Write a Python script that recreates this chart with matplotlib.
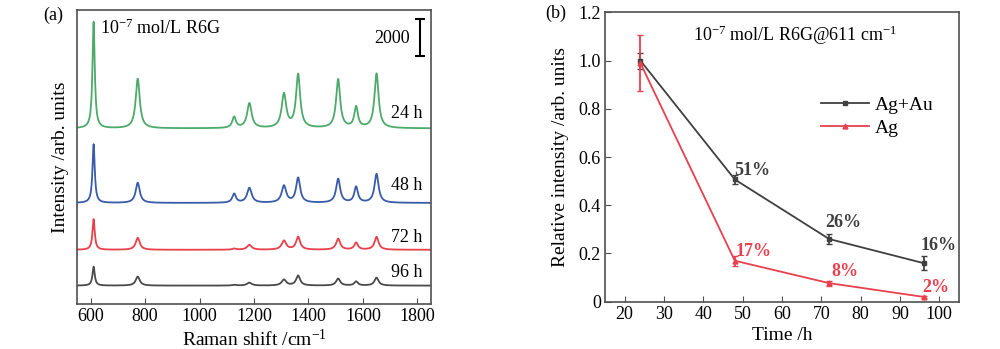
import numpy as np
import matplotlib; matplotlib.use("Agg")
import matplotlib.pyplot as plt
from matplotlib.lines import Line2D

plt.rcParams['font.family'] = ['Liberation Serif', 'DejaVu Serif']
plt.rcParams['mathtext.default'] = 'regular'

# (a) Raman spectra: peak positions, half-widths, heights per time
peaks = [611, 773, 1127, 1183, 1310, 1362, 1509, 1575, 1650]
hw = [5, 9, 8, 10, 10, 9, 9, 8, 9]
h24 = [5800, 2700, 600, 1350, 1840, 2900, 2650, 1130, 2970]
h48 = [3200, 1100, 490, 810, 920, 1350, 1300, 860, 1570]
h72 = [1670, 650, 60, 270, 490, 700, 600, 380, 700]
h96 = [1030, 490, 40, 160, 320, 540, 380, 220, 430]
offsets = [9560, 5500, 2950, 1000]
labels = ['24 h', '48 h', '72 h', '96 h']
label_y = [10390, 6470, 3645, 1690]
colors = ['#4daa6a', '#3a5ba8', '#e8414b', '#4a4a4a']

# (b) relative intensity at 611 cm-1
t = [24, 48, 72, 96]
agau = [1.0, 0.507, 0.26, 0.16]
agau_err = [0.033, 0.02, 0.022, 0.028]
ag = [0.99, 0.17, 0.077, 0.02]
ag_err = [0.117, 0.02, 0.01, 0.004]
agau_txt = ['51%', '26%', '16%']
agau_pos = [(52.5, 0.546), (75.6, 0.328), (99.7, 0.235)]
ag_txt = ['17%', '8%', '2%']
ag_pos = [(52.7, 0.21), (76, 0.127), (99, 0.058)]

FS = 13
fig = plt.figure(figsize=(10, 3.49), dpi=100)
axa = fig.add_axes([0.077, 0.129, 0.354, 0.842])
axb = fig.add_axes([0.605, 0.1355, 0.354, 0.829])

x = np.linspace(550, 1850, 3000)
for hs, off, c, lab, ly in zip([h24, h48, h72, h96], offsets, colors, labels, label_y):
    y = np.full_like(x, off, dtype=float)
    for p, w, h in zip(peaks, hw, hs):
        y += h * w**2 / ((x - p)**2 + w**2)
    axa.plot(x, y, color=c, lw=1.3)
    axa.text(1762, ly, lab, ha='center', va='center', fontsize=FS)

axa.set_xlim(550, 1850)
axa.set_ylim(0, 16000)
axa.set_yticks([])
axa.set_xticks(range(600, 1801, 200))
axa.text(634, 15020, r'10$^{-7}$ mol/L R6G', ha='left', va='center', fontsize=FS)
axa.errorbar([1810], [14500], yerr=[1000], color='black', capsize=3.5, lw=1.5, capthick=1.5)
axa.text(1707, 14470, '2000', ha='center', va='center', fontsize=FS)
axa.set_xlabel(r'Raman shift /cm$^{-1}$', fontsize=14, labelpad=3)
axa.set_ylabel('Intensity /arb. units', fontsize=14, labelpad=6)

axb.errorbar(t, agau, yerr=agau_err, color='#404040', marker='s', ms=3, lw=1.3,
             capsize=2.5)
axb.errorbar(t, ag, yerr=ag_err, color='#e8404e', marker='^', ms=3.5, lw=1.3,
             capsize=2.5)
for s, (px, py) in zip(agau_txt, agau_pos):
    axb.text(px, py, s, ha='center', va='center', fontsize=FS, fontweight='bold', color='#404040')
for s, (px, py) in zip(ag_txt, ag_pos):
    axb.text(px, py, s, ha='center', va='center', fontsize=FS, fontweight='bold', color='#e8404e')
axb.text(63.4, 1.106, r'10$^{-7}$ mol/L R6G@611 cm$^{-1}$', ha='center', va='center', fontsize=FS)
axb.set_xlim(15, 105)
axb.set_ylim(0, 1.2)
axb.set_xticks(range(20, 101, 10))
axb.set_yticks([0, 0.2, 0.4, 0.6, 0.8, 1.0, 1.2])
axb.set_yticklabels(['0', '0.2', '0.4', '0.6', '0.8', '1.0', '1.2'])
axb.set_xlabel('Time /h', fontsize=14, labelpad=3)
axb.set_ylabel('Relative intensity /arb. units', fontsize=14, labelpad=7)
handles = [Line2D([], [], color='#404040', marker='s', ms=3, lw=1.3),
           Line2D([], [], color='#e8404e', marker='^', ms=3.5, lw=1.3)]
axb.legend(handles, ['Ag+Au', 'Ag'], loc='center left', bbox_to_anchor=(0.56, 0.64),
           frameon=False, fontsize=14, handlelength=2.5, handletextpad=0.3, labelspacing=0.25)

for ax in (axa, axb):
    ax.tick_params(direction='in', labelsize=FS, length=4, color='#505050', pad=3)
    for sp in ax.spines.values():
        sp.set_color('#505050')
        sp.set_linewidth(1.2)

fig.text(0.053, 0.957, '(a)', ha='center', va='center', fontsize=FS)
fig.text(0.556, 0.963, '(b)', ha='center', va='center', fontsize=FS)

fig.savefig('out.png', dpi=100)
